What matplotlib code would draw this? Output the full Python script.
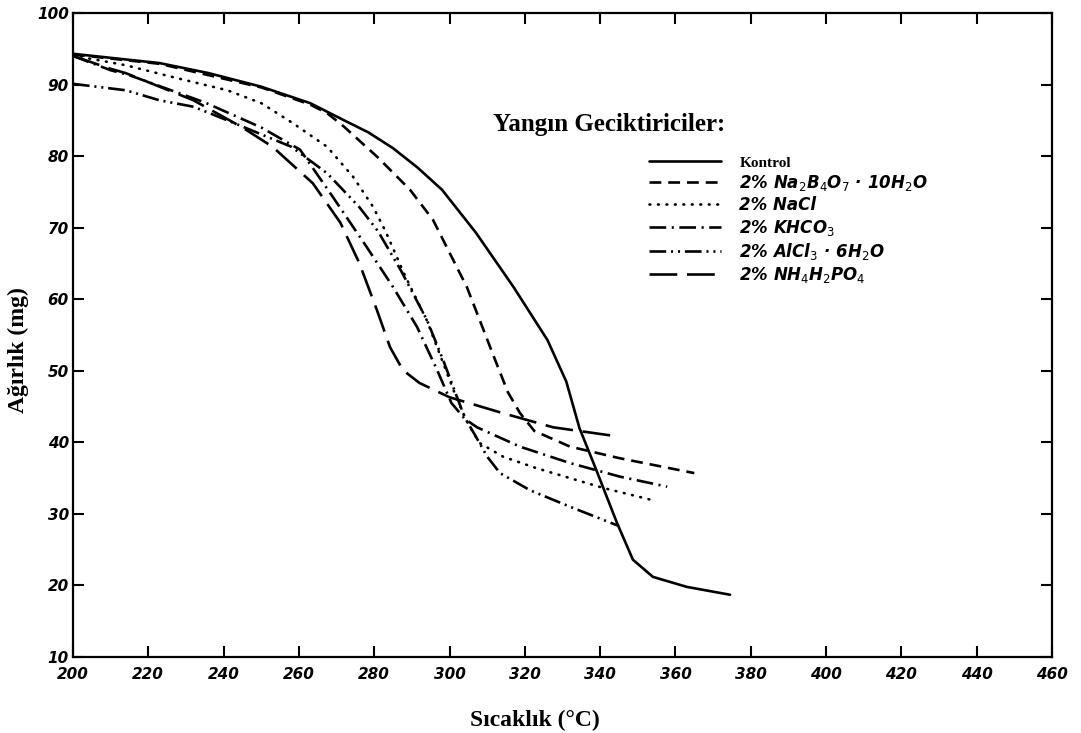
import numpy as np
import matplotlib
matplotlib.use("Agg")
import matplotlib.pyplot as plt

# ==========================================
# 1. Data
# ==========================================
kontrol_t = [200, 223, 236, 250, 263, 272, 278.5, 285, 291.5, 298, 307, 317, 326, 331, 334.5, 339, 344.5, 348.7, 354, 363, 374.5]
kontrol_w = [94.3, 93.0, 91.6, 89.7, 87.4, 85.0, 83.3, 81.1, 78.4, 75.3, 69.3, 61.7, 54.3, 48.5, 42.0, 36.1, 28.7, 23.6, 21.2, 19.8, 18.7]

borax_t = [200, 223, 250, 263, 267.5, 272, 281, 289.5, 295.6, 300, 304.6, 308, 311.6, 315.5, 318.7, 322.5, 332, 345, 365]
borax_w = [94.2, 92.9, 89.6, 87.2, 86.0, 84.1, 79.8, 75.3, 71.1, 66.5, 61.7, 57.1, 52.2, 47.0, 44.1, 41.6, 39.4, 37.8, 35.7]

nacl_t = [200, 203.7, 214, 227.6, 241, 250, 258.4, 267.5, 274.4, 279.7, 283, 288, 294, 298, 302, 305, 308, 314.2, 323, 332, 341, 353.3]
nacl_w = [94.3, 93.7, 92.7, 90.9, 89.2, 87.4, 84.6, 81.3, 77.1, 72.9, 69.5, 63.5, 57.0, 51.5, 46.0, 42.5, 39.9, 38.0, 36.4, 35.0, 33.6, 32.0]

khco3_t = [200, 210, 215, 235, 250, 260.3, 269, 278, 285, 291.4, 296.7, 300.5, 304, 307.3, 318.7, 332, 345.3, 357.8]
khco3_w = [94.0, 92.0, 91.3, 87.5, 84.0, 80.9, 74.3, 67.3, 61.7, 56.1, 50.1, 45.5, 43.3, 42.1, 39.4, 37.1, 35.2, 33.8]

alcl3_t = [200, 214, 223, 232, 241, 258, 267.5, 276, 281, 287, 294, 298.3, 302, 304, 307, 310, 313.4, 321.4, 332, 345]
alcl3_w = [90.1, 89.2, 87.8, 86.9, 85.0, 81.3, 77.6, 72.9, 69.5, 64.1, 57.1, 51.5, 46.3, 43.5, 40.8, 38.0, 35.7, 33.3, 31.0, 28.3]

nh4_t = [200, 210, 214, 232, 245, 253, 263.7, 271, 276, 280.7, 284.2, 287.6, 292, 300, 314, 327.5, 345]
nh4_w = [94.0, 92.2, 91.6, 87.8, 84.0, 81.3, 76.2, 70.7, 65.1, 58.5, 53.3, 50.1, 48.3, 46.3, 44.1, 42.1, 40.8]

labels = [
    "Kontrol",
    "2% Na$_2$B$_4$O$_7$ · 10H$_2$O",
    "2% NaCl",
    "2% KHCO$_3$",
    "2% AlCl$_3$ · 6H$_2$O",
    "2% NH$_4$H$_2$PO$_4$",
]

x_ticks = list(range(200, 461, 20))
y_ticks = list(range(10, 101, 10))

# ==========================================
# 2. Style
# ==========================================
plt.rcParams["lines.scale_dashes"] = False
plt.rcParams["mathtext.fontset"] = "dejavusans"

styles = [
    "-",
    (0, (8.5, 5)),
    (0, (0.6, 5.5)),
    (0, (12, 4, 1.5, 4)),
    (0, (12, 3.5, 1.5, 3.5, 1.5, 3.5)),
    (0, (20, 7)),
]

series = [
    (kontrol_t, kontrol_w),
    (borax_t, borax_w),
    (nacl_t, nacl_w),
    (khco3_t, khco3_w),
    (alcl3_t, alcl3_w),
    (nh4_t, nh4_w),
]

fig = plt.figure(figsize=(10.81, 7.33), dpi=100)
ax = fig.add_axes([73 / 1081, 1 - 657 / 733, (1052 - 73) / 1081, (657 - 13) / 733])

for i, ((t, w), ls, lab) in enumerate(zip(series, styles, labels)):
    cap = "round" if i == 2 else "butt"
    ax.plot(t, w, color="black", lw=1.9, linestyle=ls, label=lab,
            dash_capstyle=cap, solid_capstyle="round", solid_joinstyle="round")

ax.set_xlim(200, 460)
ax.set_ylim(10, 100)
ax.set_xticks(x_ticks)
ax.set_yticks(y_ticks)

for sp in ax.spines.values():
    sp.set_linewidth(1.6)

ax.tick_params(direction="in", length=8, width=1.5, top=True, right=True,
               labelsize=11)
ax.tick_params(axis="x", pad=7)
ax.tick_params(axis="y", pad=3)
for lbl in ax.get_xticklabels() + ax.get_yticklabels():
    lbl.set_fontstyle("italic")
    lbl.set_fontweight("bold")

ax.set_xlabel("Sıcaklık (°C)", family="Liberation Serif", fontweight="bold", fontsize=17)
ax.set_ylabel("Ağırlık (mg)", family="Liberation Serif", fontweight="bold", fontsize=17)
ax.xaxis.set_label_coords(0.472, -0.082)
ax.yaxis.set_label_coords(-0.045, 0.477)

# ==========================================
# 3. Legend
# ==========================================
ax.text(0.548, 0.827, "Yangın Geciktiriciler:", transform=ax.transAxes,
        family="Liberation Serif", fontweight="bold", fontsize=18, ha="center", va="center")

leg = ax.legend(loc="upper left", bbox_to_anchor=(0.582, 0.79), frameon=False,
                handlelength=4.3, handletextpad=1.1, labelspacing=0.2, fontsize=12,
                borderaxespad=0)
for i, txt in enumerate(leg.get_texts()):
    if i == 0:
        txt.set_family("Liberation Serif")
        txt.set_fontweight("bold")
        txt.set_fontsize(11)
    else:
        txt.set_fontstyle("italic")
        txt.set_fontweight("bold")

fig.savefig("out.png", dpi=100, facecolor="white")
